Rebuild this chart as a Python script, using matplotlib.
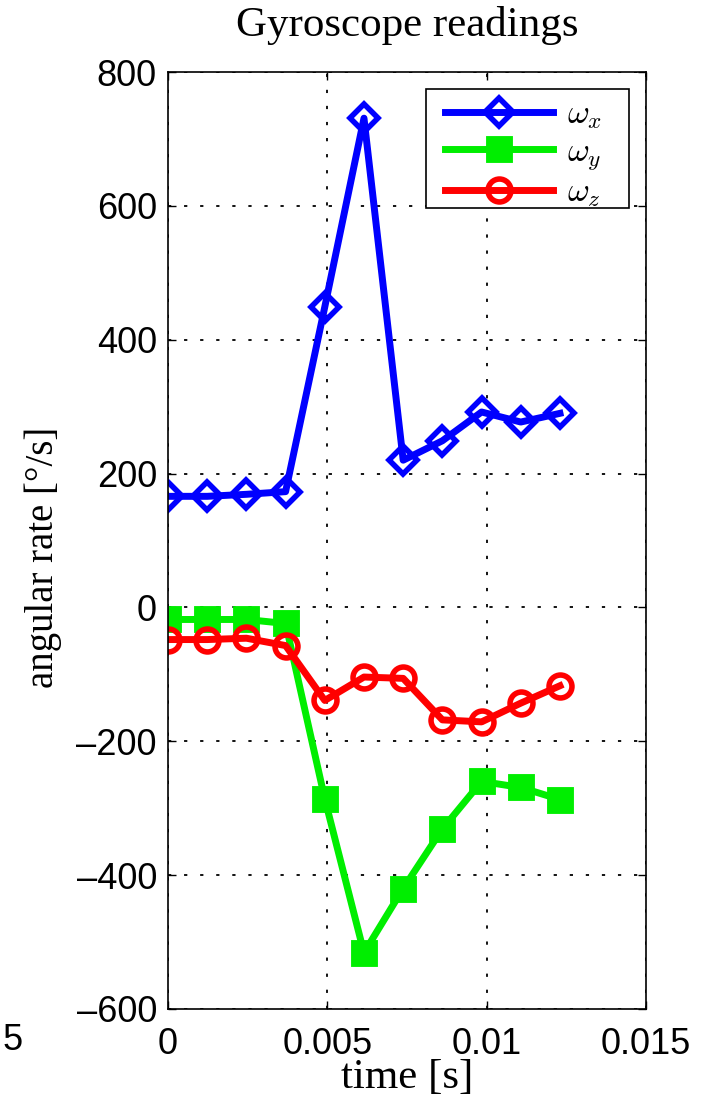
import matplotlib
matplotlib.use("Agg")
import matplotlib.pyplot as plt
from matplotlib.patches import Rectangle
import numpy as np

# data
t = [0.0, 0.00123, 0.00246, 0.00369, 0.00492, 0.00615, 0.00738, 0.00861, 0.00984, 0.01107, 0.0123]
wx = [166, 166, 169, 173, 449, 731, 220, 249, 292, 277, 290]
wy = [-18, -18, -18, -24, -286, -516, -420, -331, -260, -269, -287]
wz = [-48, -48, -46, -57, -139, -104, -106, -168, -171, -143, -117]
xticks = [0, 0.005, 0.01, 0.015]
xticklabels = ["0", "0.005", "0.01", "0.015"]
yticks = [-600, -400, -200, 0, 200, 400, 600, 800]
yticklabels = ["\u2013600", "\u2013400", "\u2013200", "0", "200", "400", "600", "800"]

plt.rcParams['mathtext.fontset'] = 'cm'
W, H = 702, 1104
L, R, T, B = 168, 646, 72, 1009
fig = plt.figure(figsize=(W/100, H/100), dpi=100)
ax = fig.add_axes([L/W, 1-B/H, (R-L)/W, (B-T)/H])

def ax_xy(px, py):
    return (px - L) / (R - L), (B - py) / (B - T)

lw = 5
ax.plot(t, wx, color='#0000ff', lw=lw, marker='D', ms=14, mfc='none', mec='#0000ff', mew=4, label=r'$\omega_x$')
ax.plot(t, wy, color='#00ee00', lw=lw, marker='s', ms=16, mfc='#00ee00', mec='#00ee00', mew=3.5, label=r'$\omega_y$')
ax.plot(t, wz, color='#ff0000', lw=lw, marker='o', ms=16.5, mfc='none', mec='#ff0000', mew=4, label=r'$\omega_z$')

ax.set_xlim(0, 0.015)
ax.set_ylim(-600, 800)
ax.set_xticks(xticks)
ax.set_xticklabels(xticklabels, family='Liberation Sans', fontsize=26)
ax.set_yticks(yticks)
ax.set_yticklabels(yticklabels, family='Liberation Sans', fontsize=26)
ax.tick_params(direction='in', length=6, width=1, top=True, right=True)
ax.tick_params(axis='x', pad=13)
ax.tick_params(axis='y', pad=8)
ax.grid(True, color='black', linestyle=(0, (1.8, 7.1)), linewidth=1.3)
for s in ax.spines.values():
    s.set_linewidth(1.2)

ax.set_title('Gyroscope readings', family='Liberation Serif', fontsize=31, pad=26)
ax.set_xlabel('time [s]', family='Liberation Serif', fontsize=31)
ax.set_ylabel('angular rate [\u00b0/s]', family='Liberation Serif', fontsize=28)
ax.xaxis.set_label_coords(0.5, (B-1058)/(B-T))
ax.yaxis.set_label_coords((62-L)/(R-L), (B-557)/(B-T))

# legend frame
x0, y0 = ax_xy(426, 208)
x1, y1 = ax_xy(629, 89)
ax.add_patch(Rectangle((x0, y0), x1 - x0, y1 - y0, transform=ax.transAxes,
                       facecolor='white', edgecolor='black', lw=1.2, zorder=4.5))

leg = ax.legend(loc='upper left', bbox_to_anchor=ax_xy(442, 94),
                fontsize=24, frameon=False,
                handlelength=3.24, borderaxespad=0, labelspacing=0.1, handletextpad=0.4,
                borderpad=0.1)
leg.set_zorder(5)

fig.text(2/W, 1-1041/H, '5', family='Liberation Sans', fontsize=26, va='center', ha='left')

fig.savefig('out.png', dpi=100)
